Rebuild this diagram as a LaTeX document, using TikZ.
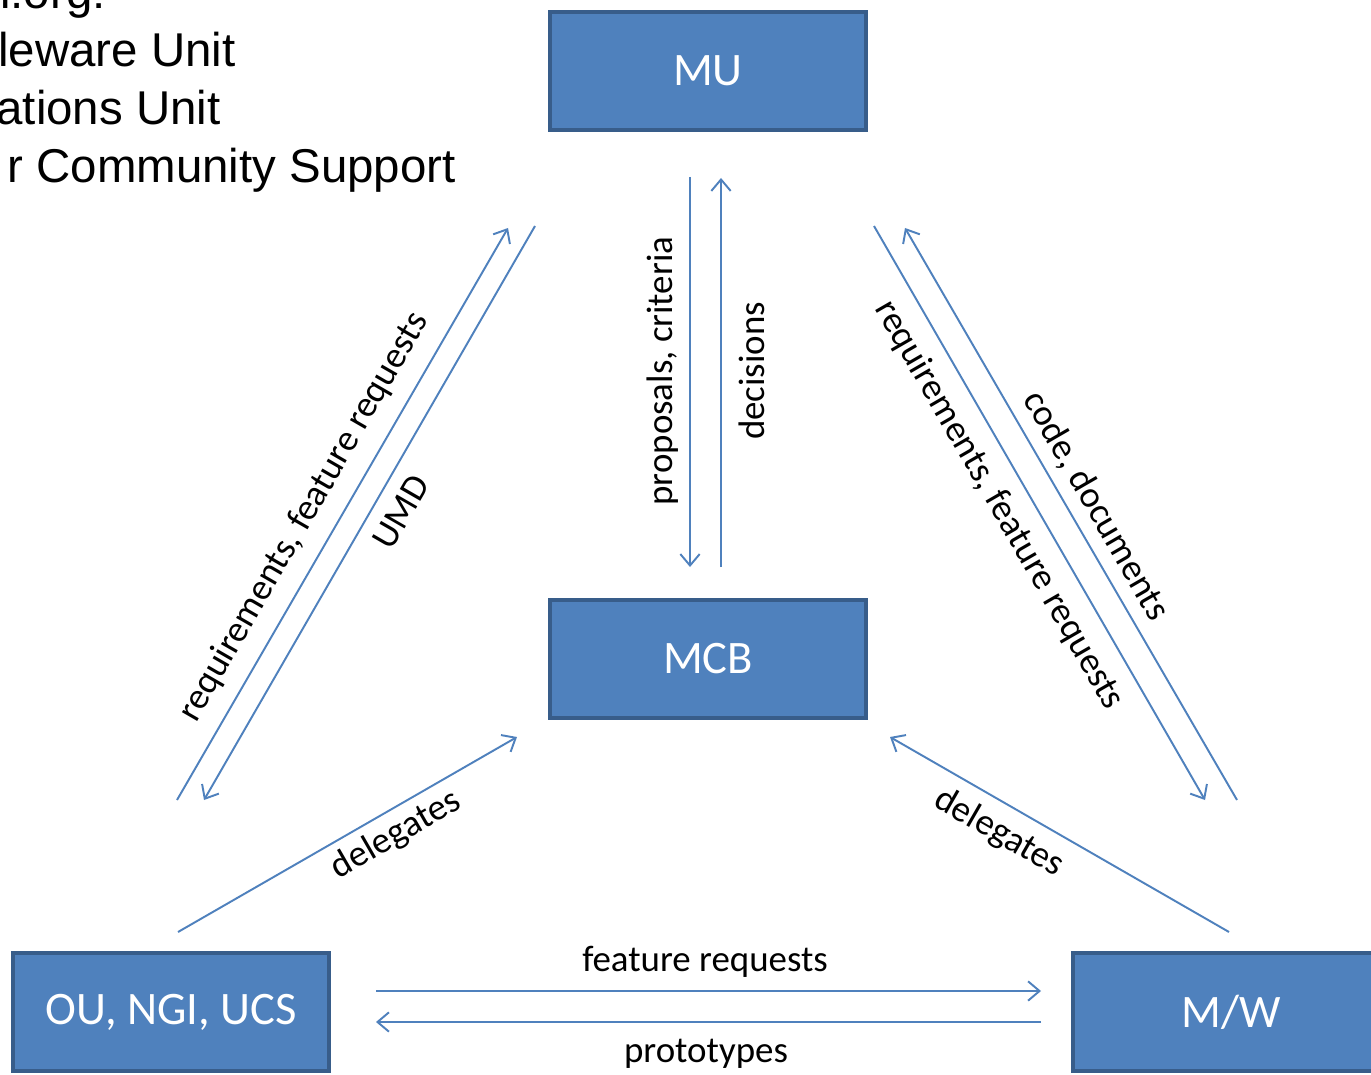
\documentclass[tikz,border=0pt]{standalone}
\usepackage{fontspec}
\setmainfont{Carlito}
\newfontfamily\arialfont{Liberation Sans}
\usetikzlibrary{arrows.meta}
\definecolor{unitblue}{HTML}{4F81BD}
\definecolor{unitedge}{HTML}{385D8A}
\tikzset{
  unit/.style={draw=unitedge, line width=2.2pt, fill=unitblue, text=white,
    minimum width=6.32cm, minimum height=2.36cm, inner sep=0pt,
    font=\fontsize{26.5}{30}\selectfont},
  flow/.style={draw=unitblue, line width=1.1pt,
    -{Straight Barb[length=6.5pt,width=11pt]}},
  lbl/.style={font=\fontsize{21}{24}\selectfont, inner sep=0pt},
  legend/.style={font=\arialfont\fontsize{27}{30}\selectfont, inner sep=0pt, anchor=base east}
}
\begin{document}
\begin{tikzpicture}[x=0.02cm, y=-0.02cm]
  \useasboundingbox (0,0) rectangle (1371,1074);
  \clip (0,0) rectangle (1371,1074);
  \fill[white] (0,0) rectangle (1371,1074);

  % legend, cut at the left edge
  \node[legend] (lg1) at (106,9) {n.org:};
  \node[legend] (lg2) at (236,67) {leware Unit};
  \node[legend] (lg3) at (221,125) {ations Unit};
  \node[legend] (lg4) at (456,183) {r Community Support};

  % units
  \node[unit] (mu)  at (708,71)    {MU};
  \node[unit] (mcb) at (708,659)   {MCB};
  \node[unit] (ou)  at (171,1012)  {OU, NGI, UCS};
  \node[unit] (mw)  at (1231,1012) {M/W};

  % MU <-> MCB
  \coordinate (pcA) at (690,177);  \coordinate (pcB) at (690,567);
  \coordinate (dcA) at (721,567);  \coordinate (dcB) at (721,178);
  \draw[flow] (pcA) -- (pcB);
  \draw[flow] (dcA) -- (dcB);
  \node[lbl, rotate=90] (lprop) at (663,371) {proposals, criteria};
  \node[lbl, rotate=90] (ldec)  at (752,371) {decisions};

  % OU <-> MU
  \coordinate (rqA) at (177,800);  \coordinate (rqB) at (508,228);
  \coordinate (umA) at (535,226);  \coordinate (umB) at (204,800);
  \draw[flow] (rqA) -- (rqB);
  \draw[flow] (umA) -- (umB);
  \node[lbl, rotate=60] (lreql) at (304,517) {requirements, feature requests};
  \node[lbl, rotate=60] (lumd)  at (401,512) {UMD};

  % MU <-> M/W
  \coordinate (rrA) at (874,226);  \coordinate (rrB) at (1205,800);
  \coordinate (cdA) at (1237,800); \coordinate (cdB) at (905,228);
  \draw[flow] (rrA) -- (rrB);
  \draw[flow] (cdA) -- (cdB);
  \node[lbl, rotate=-60] (lreqr) at (999,505)  {requirements, feature requests};
  \node[lbl, rotate=-60] (lcode) at (1096,506) {code, documents};

  % delegates
  \coordinate (dlA) at (178,932);  \coordinate (dlB) at (517,737);
  \coordinate (drA) at (1229,932); \coordinate (drB) at (890,737);
  \draw[flow] (dlA) -- (dlB);
  \draw[flow] (drA) -- (drB);
  \node[lbl, rotate=30]  (ldell) at (396,835) {delegates};
  \node[lbl, rotate=-30] (ldelr) at (999,833) {delegates};

  % OU <-> M/W
  \coordinate (frA) at (376,991);  \coordinate (frB) at (1041,991);
  \coordinate (ptA) at (1041,1022); \coordinate (ptB) at (376,1022);
  \draw[flow] (frA) -- (frB);
  \draw[flow] (ptA) -- (ptB);
  \node[lbl] (lfeat)  at (705,962)  {feature requests};
  \node[lbl] (lproto) at (706,1054) {prototypes};
\end{tikzpicture}
\end{document}
